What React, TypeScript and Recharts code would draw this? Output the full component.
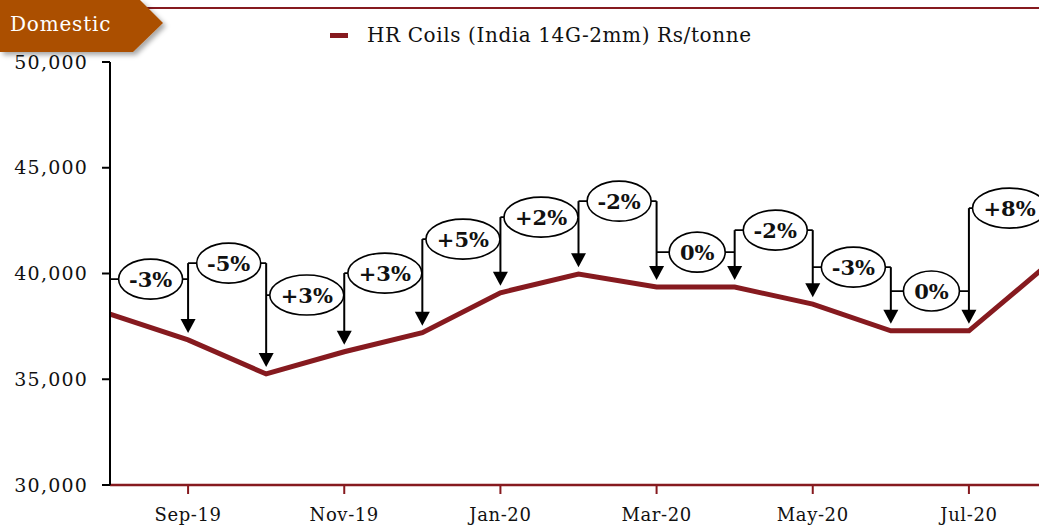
import React from 'react';
import { LineChart, Line, XAxis, YAxis, ReferenceLine, ReferenceDot, Legend } from 'recharts';

const months = ['Aug-19', 'Sep-19', 'Oct-19', 'Nov-19', 'Dec-19', 'Jan-20', 'Feb-20', 'Mar-20', 'Apr-20', 'May-20', 'Jun-20', 'Jul-20', 'Aug-20'];
const prices = [38080, 36860, 35250, 36300, 37200, 39090, 39970, 39360, 39360, 38550, 37290, 37290, 40400];
// month-on-month change callouts, one per month from Sep-19
const changeLabels = ['-3%', '-5%', '+3%', '+3%', '+5%', '+2%', '-2%', '0%', '-2%', '-3%', '0%', '+8%'];
// height (Rs/tonne) at which each callout bubble sits
const labelLevels = [39735, 40490, 38980, 40020, 41625, 42665, 43420, 41010, 42050, 40300, 39170, 43090];
const yTicks = [30000, 35000, 40000, 45000, 50000];
const xTicks = [1, 3, 5, 7, 9, 11];

const FONT = "'DejaVu Serif', Georgia, serif";
const RED = '#861a1f';

const data = months.map((m, i) => ({ idx: i, month: m, price: prices[i] }));

const ArrowShape = (p: any) => {
  const x = p.x1;
  const top = Math.min(p.y1, p.y2);
  const tip = Math.max(p.y1, p.y2) - 7;
  return (
    <g>
      <line x1={x} y1={top} x2={x} y2={tip - 12} stroke="#000" strokeWidth={2} />
      <path d={`M${x - 7.5},${tip - 14} L${x + 7.5},${tip - 14} L${x},${tip} Z`} fill="#000" />
    </g>
  );
};

const bubble = (label: string) => (p: any) => {
  const rx = label.length === 2 ? 28 : label.startsWith('+') ? 37 : 32;
  return (
    <g>
      <ellipse cx={p.cx} cy={p.cy} rx={rx} ry={20} fill="#fff" stroke="#000" strokeWidth={1.6} />
      <text x={p.cx} y={p.cy} dy="0.36em" textAnchor="middle" fontFamily={FONT} fontWeight="bold" fontSize={21} fill="#111">
        {label}
      </text>
    </g>
  );
};

const LegendBox = () => (
  <div style={{ display: 'flex', alignItems: 'center', fontFamily: FONT, fontSize: 20, color: '#111', whiteSpace: 'nowrap' }}>
    <span style={{ display: 'inline-block', width: 18, height: 5, background: RED, marginRight: 19 }} />
    <span style={{ letterSpacing: 0.6 }}>HR Coils (India 14G-2mm) Rs/tonne</span>
  </div>
);

export default function App() {
  return (
    <div style={{ position: 'absolute', left: 0, top: 0, width: 1039, height: 525, overflow: 'hidden', background: '#fff' }}>
      <LineChart width={1047} height={525} data={data} margin={{ top: 62, right: 0, bottom: 0, left: 0 }}>
        <XAxis
          type="number"
          dataKey="idx"
          domain={[0, 12]}
          ticks={xTicks}
          tickFormatter={(i: number) => months[i]}
          height={40}
          tickSize={9}
          tickMargin={14}
          axisLine={{ stroke: RED, strokeWidth: 2.5 }}
          tickLine={{ stroke: RED, strokeWidth: 2 }}
          tick={{ fill: '#111', fontSize: 18, fontFamily: FONT, letterSpacing: 0.6 }}
        />
        <YAxis
          domain={[30000, 50000]}
          ticks={yTicks}
          width={110}
          tickSize={8}
          tickMargin={14}
          tickFormatter={(v: number) => v.toLocaleString('en-US')}
          axisLine={{ stroke: '#000', strokeWidth: 2 }}
          tickLine={{ stroke: '#000', strokeWidth: 2 }}
          tick={{ fill: '#111', fontSize: 19, fontFamily: FONT, letterSpacing: 1.2 }}
        />
        <Legend
          layout="horizontal"
          verticalAlign="middle"
          align="center"
          wrapperStyle={{ top: 23, left: 330, width: 'auto' }}
          content={() => <LegendBox />}
        />
        <Line
          type="linear"
          dataKey="price"
          name="HR Coils (India 14G-2mm) Rs/tonne"
          stroke={RED}
          strokeWidth={5}
          dot={false}
          isAnimationActive={false}
        />
        {changeLabels.map((_, j) => (
          <ReferenceLine
            key={`c${j}`}
            segment={[{ x: j, y: labelLevels[j] }, { x: j + 1, y: labelLevels[j] }]}
            stroke="#000"
            strokeWidth={1.8}
            ifOverflow="visible"
          />
        ))}
        {changeLabels.map((_, j) => {
          const m = j + 1;
          const top = Math.max(labelLevels[j], m < labelLevels.length ? labelLevels[m] : labelLevels[j]);
          return (
            <ReferenceLine
              key={`a${m}`}
              segment={[{ x: m, y: top }, { x: m, y: prices[m] }]}
              ifOverflow="visible"
              shape={ArrowShape}
            />
          );
        })}
        {changeLabels.map((label, j) => (
          <ReferenceDot
            key={`b${j}`}
            x={j + 0.52}
            y={labelLevels[j]}
            ifOverflow="visible"
            shape={bubble(label)}
          />
        ))}
      </LineChart>
      <svg width={1039} height={70} style={{ position: 'absolute', left: 0, top: 0 }}>
        <defs>
          <filter id="tagShadow" x="-10%" y="-20%" width="130%" height="160%">
            <feDropShadow dx="3" dy="3" stdDeviation="2.5" floodColor="#000" floodOpacity="0.35" />
          </filter>
        </defs>
        <line x1={140} y1={8} x2={1039} y2={8} stroke={RED} strokeWidth={2} />
        <polygon points="0,0 140,0 163,23 133,52 0,52" fill="#ab5000" filter="url(#tagShadow)" />
        <text x={10} y={31} fontFamily={FONT} fontSize={20} fill="#fff" letterSpacing={0.8}>
          Domestic
        </text>
      </svg>
    </div>
  );
}
